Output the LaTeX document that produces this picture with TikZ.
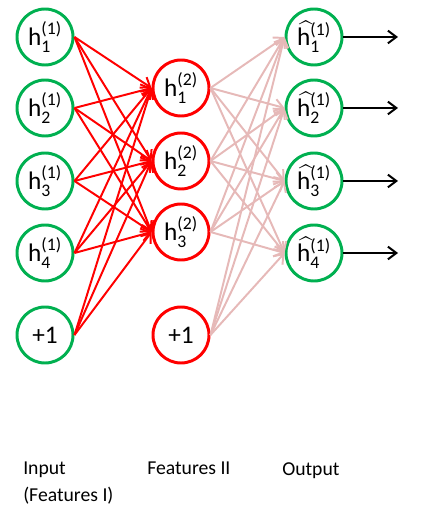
\documentclass[tikz,border=0pt]{standalone}
\usepackage{fontspec}
\setmainfont{Carlito}
\usepackage{amsmath}
\usetikzlibrary{arrows.meta}
\definecolor{ogreen}{RGB}{0,176,80}
\definecolor{ored}{RGB}{255,0,0}
\definecolor{opink}{RGB}{230,185,184}
\newcommand{\hval}[2]{$\text{h}^{\text{(#2)}}_{\text{#1}}$}
\newcommand{\hhat}[2]{$\widehat{\text{h}\kern3pt}\kern-3pt^{\text{(#2)}}_{\text{#1}}$}
\begin{document}
\begin{tikzpicture}[>={Straight Barb[length=6pt,width=9pt,line width=1.4pt]},
    font=\fontsize{14}{19}\selectfont,
    unit/.style={circle, line width=2.1pt, minimum size=1.4cm, inner sep=0pt,
                 font=\fontsize{18}{20}\selectfont},
    inunit/.style={unit, draw=ogreen},
    hidunit/.style={unit, draw=ored},
    fwd/.style={->, line width=1.4pt, ored},
    back/.style={->, line width=1.4pt, opink},
    outarr/.style={->, line width=1.4pt, black}]
\useasboundingbox (0,0) rectangle (10.5,12.75);

    % Lapisan masukan
    \node[inunit] (i1) at (1.125,11.825) {\hval{1}{1}};
    \node[inunit] (i2) at (1.125,10.05) {\hval{2}{1}};
    \node[inunit] (i3) at (1.125,8.225) {\hval{3}{1}};
    \node[inunit] (i4) at (1.125,6.425) {\hval{4}{1}};
    \node[inunit] (ib) at (1.125,4.375) {+1};

    % Lapisan fitur II
    \node[hidunit] (f1) at (4.525,10.55) {\hval{1}{2}};
    \node[hidunit] (f2) at (4.525,8.725) {\hval{2}{2}};
    \node[hidunit] (f3) at (4.525,6.95) {\hval{3}{2}};
    \node[hidunit] (fb) at (4.525,4.375) {+1};

    % Lapisan keluaran
    \node[inunit] (o1) at (7.85,11.825) {\hhat{1}{1}};
    \node[inunit] (o2) at (7.85,10.05) {\hhat{2}{1}};
    \node[inunit] (o3) at (7.85,8.225) {\hhat{3}{1}};
    \node[inunit] (o4) at (7.85,6.425) {\hhat{4}{1}};

    \coordinate (e1) at (9.95,11.825);
    \coordinate (e2) at (9.95,10.05);
    \coordinate (e3) at (9.95,8.225);
    \coordinate (e4) at (9.95,6.425);

    % Sisi masukan ke fitur II
    \draw[fwd] (i1.east) -- (f1.west);
    \draw[fwd] (i1.east) -- (f2.west);
    \draw[fwd] (i1.east) -- (f3.west);
    \draw[fwd] (i2.east) -- (f1.west);
    \draw[fwd] (i2.east) -- (f2.west);
    \draw[fwd] (i2.east) -- (f3.west);
    \draw[fwd] (i3.east) -- (f1.west);
    \draw[fwd] (i3.east) -- (f2.west);
    \draw[fwd] (i3.east) -- (f3.west);
    \draw[fwd] (i4.east) -- (f1.west);
    \draw[fwd] (i4.east) -- (f2.west);
    \draw[fwd] (i4.east) -- (f3.west);
    \draw[fwd] (ib.east) -- (f1.west);
    \draw[fwd] (ib.east) -- (f2.west);
    \draw[fwd] (ib.east) -- (f3.west);

    % Sisi fitur II ke keluaran
    \draw[back] (f1.east) -- (o1.west);
    \draw[back] (f1.east) -- (o2.west);
    \draw[back] (f1.east) -- (o3.west);
    \draw[back] (f1.east) -- (o4.west);
    \draw[back] (f2.east) -- (o1.west);
    \draw[back] (f2.east) -- (o2.west);
    \draw[back] (f2.east) -- (o3.west);
    \draw[back] (f2.east) -- (o4.west);
    \draw[back] (f3.east) -- (o1.west);
    \draw[back] (f3.east) -- (o2.west);
    \draw[back] (f3.east) -- (o3.west);
    \draw[back] (f3.east) -- (o4.west);
    \draw[back] (fb.east) -- (o1.west);
    \draw[back] (fb.east) -- (o2.west);
    \draw[back] (fb.east) -- (o3.west);
    \draw[back] (fb.east) -- (o4.west);

    % Panah keluar
    \draw[outarr] (o1.east) -- (e1);
    \draw[outarr] (o2.east) -- (e2);
    \draw[outarr] (o3.east) -- (e3);
    \draw[outarr] (o4.east) -- (e4);

    % Keterangan lapisan
    \node[anchor=north west, align=left, inner sep=0pt] (lin) at (0.575,1.2) {Input\\(Features I)};
    \node[anchor=north west, inner sep=0pt] (lfe) at (3.675,1.2) {Features II};
    \node[anchor=north west, inner sep=0pt] (lout) at (7.05,1.2) {Output};

\end{tikzpicture}
\end{document}
